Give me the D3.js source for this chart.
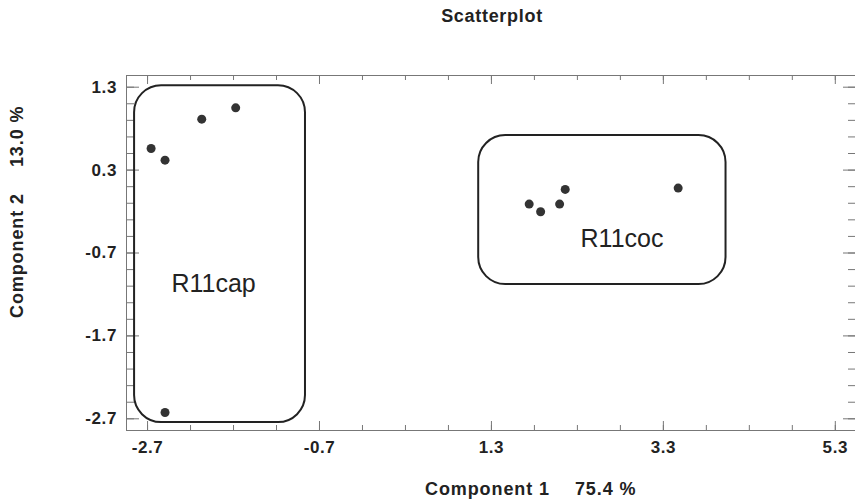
<!DOCTYPE html>
<html>
<head>
<meta charset="utf-8">
<script src="https://cdn.jsdelivr.net/npm/d3@7"></script>
<style>
  body { margin: 0; background: #fff; }
  svg { display: block; font-family: "Liberation Sans", Arial, sans-serif; }
</style>
</head>
<body>
<div id="chart"></div>
<script>
// scores (component 1, component 2)
const capX = [-2.653, -2.491, -2.064, -1.669, -2.491];
const capY = [0.555, 0.414, 0.908, 1.045, -2.63];
const cocX = [1.745, 1.878, 2.099, 2.164, 3.478];
const cocY = [-0.116, -0.208, -0.116, 0.061, 0.077];

// group outlines in data units: [x0, x1, y0, y1]
const groupNames = ['R11cap', 'R11coc'];
const groupBoxes = [[-2.851, -0.863, -2.746, 1.318], [1.152, 4.029, -1.08, 0.716]];
const groupLabelAt = [[-1.926, -1.173], [2.825, -0.63]];

const xMajor = [-2.7, -0.7, 1.3, 3.3, 5.3];
const yMajor = [1.3, 0.3, -0.7, -1.7, -2.7];

const width = 855;
const height = 503;

const svg = d3.select('#chart')
  .append('svg')
  .attr('width', width)
  .attr('height', height);

const x = d3.scaleLinear().domain([-2.945, 5.535]).range([126, 855]);
const y = d3.scaleLinear().domain([-2.841, 1.441]).range([430, 75]);

const xMinor = d3.range(-2.7, 5.31, 0.5);
const yMinor = d3.range(-2.7, 1.31, 0.2);

const tickColor = '#777';
const fmt = d => d.toFixed(1);

// title
svg.append('text')
  .text('Scatterplot')
  .attr('x', 492)
  .attr('y', 22)
  .attr('text-anchor', 'middle')
  .style('font-weight', 'bold')
  .style('font-size', '18px')
  .style('letter-spacing', '0.7px')
  .style('fill', '#222');

// frame (right edge sits just off the picture)
svg.append('rect')
  .attr('x', x.range()[0] + 0.5)
  .attr('y', y.range()[1] + 0.5)
  .attr('width', x.range()[1] - x.range()[0] + 1)
  .attr('height', y.range()[0] - y.range()[1])
  .style('fill', 'none')
  .style('stroke', tickColor);

function styleAxis(g) {
  g.select('.domain').remove();
  g.selectAll('line').style('stroke', tickColor);
  g.selectAll('text')
    .style('font-size', '17px')
    .style('font-weight', 'bold')
    .style('letter-spacing', '0.6px')
    .style('fill', '#222')
    .style('font-family', '"Liberation Sans", Arial, sans-serif');
}

// bottom
svg.append('g').attr('transform', 'translate(0,' + y.range()[0] + ')')
  .call(d3.axisBottom(x).tickValues(xMinor).tickSize(-5).tickFormat(''))
  .call(styleAxis);
svg.append('g').attr('transform', 'translate(0,' + y.range()[0] + ')')
  .call(d3.axisBottom(x).tickValues(xMajor).tickSize(-9).tickPadding(11).tickFormat(fmt))
  .call(styleAxis);
// top
svg.append('g').attr('transform', 'translate(0,' + y.range()[1] + ')')
  .call(d3.axisTop(x).tickValues(xMinor).tickSize(-5).tickFormat(''))
  .call(styleAxis);
svg.append('g').attr('transform', 'translate(0,' + y.range()[1] + ')')
  .call(d3.axisTop(x).tickValues(xMajor).tickSize(-9).tickFormat(''))
  .call(styleAxis);
// left
svg.append('g').attr('transform', 'translate(' + x.range()[0] + ',0)')
  .call(d3.axisLeft(y).tickValues(yMinor).tickSize(-8).tickFormat(''))
  .call(styleAxis);
svg.append('g').attr('transform', 'translate(' + x.range()[0] + ',0)')
  .call(d3.axisLeft(y).tickValues(yMajor).tickSize(-13).tickPadding(9).tickFormat(fmt))
  .call(styleAxis);
// right
svg.append('g').attr('transform', 'translate(' + x.range()[1] + ',0)')
  .call(d3.axisRight(y).tickValues(yMinor).tickSize(-7).tickFormat(''))
  .call(styleAxis);
svg.append('g').attr('transform', 'translate(' + x.range()[1] + ',0)')
  .call(d3.axisRight(y).tickValues(yMajor).tickSize(-12).tickFormat(''))
  .call(styleAxis);

// group outlines
svg.selectAll('.group-box')
  .data(groupBoxes)
  .enter()
  .append('rect')
  .attr('class', 'group-box')
  .attr('x', d => x(d[0]))
  .attr('y', d => y(d[3]))
  .attr('width', d => x(d[1]) - x(d[0]))
  .attr('height', d => y(d[2]) - y(d[3]))
  .attr('rx', 27)
  .attr('ry', 27)
  .style('fill', 'none')
  .style('stroke', '#222')
  .style('stroke-width', 2);

svg.selectAll('.group-label')
  .data(groupNames)
  .enter()
  .append('text')
  .attr('class', 'group-label')
  .text(d => d)
  .attr('x', (d, i) => x(groupLabelAt[i][0]))
  .attr('y', (d, i) => y(groupLabelAt[i][1]))
  .attr('text-anchor', 'middle')
  .style('font-size', '25px')
  .style('fill', '#222');

// points
const points = capX.map((v, i) => [v, capY[i]])
  .concat(cocX.map((v, i) => [v, cocY[i]]));

svg.selectAll('.pt')
  .data(points)
  .enter()
  .append('circle')
  .attr('class', 'pt')
  .attr('cx', d => x(d[0]))
  .attr('cy', d => y(d[1]))
  .attr('r', 4.5)
  .style('fill', '#333');

// axis titles
const xTitle = svg.append('text')
  .attr('x', 425)
  .attr('y', 495)
  .style('font-weight', 'bold')
  .style('font-size', '18px')
  .style('letter-spacing', '0.9px')
  .style('fill', '#222');
xTitle.append('tspan').text('Component 1');
xTitle.append('tspan').attr('dx', 25).text('75.4 %');

const yTitle = svg.append('text')
  .attr('transform', 'translate(23,318) rotate(-90)')
  .style('font-weight', 'bold')
  .style('font-size', '18px')
  .style('letter-spacing', '0.9px')
  .style('fill', '#222');
yTitle.append('tspan').text('Component 2');
yTitle.append('tspan').attr('dx', 26).text('13.0 %');
</script>
</body>
</html>
